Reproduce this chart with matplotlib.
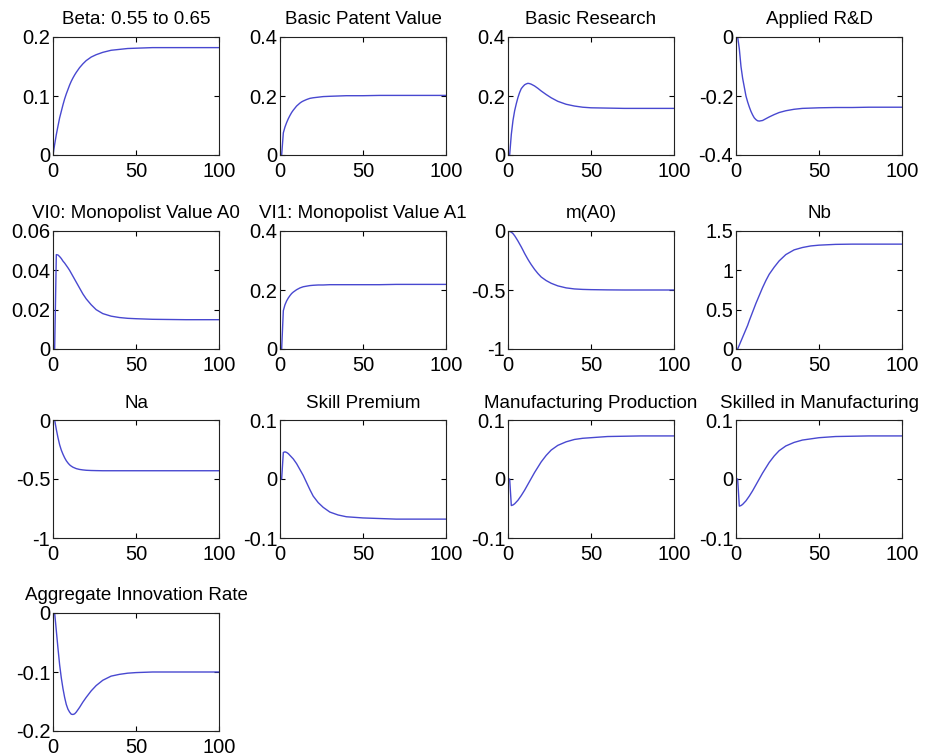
import matplotlib
matplotlib.use("Agg")
import matplotlib.pyplot as plt

plt.rcParams['font.family'] = ['Liberation Sans', 'DejaVu Sans']

x = [0, 1, 2, 3, 4, 5, 6, 7, 8, 9, 10, 11, 12, 13, 14, 16, 18, 20, 23, 26, 30, 35, 40, 45, 50, 60, 70, 80, 100]

titles = ["Beta: 0.55 to 0.65", "Basic Patent Value", "Basic Research", "Applied R&D",
          "VI0: Monopolist Value A0", "VI1: Monopolist Value A1", "m(A0)", "Nb",
          "Na", "Skill Premium", "Manufacturing Production", "Skilled in Manufacturing",
          "Aggregate Innovation Rate"]

beta = [0, 0.018, 0.0346, 0.049, 0.063, 0.074, 0.085, 0.095, 0.1035, 0.111, 0.1185, 0.125, 0.1305, 0.1355,
        0.140, 0.148, 0.1545, 0.160, 0.166, 0.170, 0.174, 0.1775, 0.179, 0.1805, 0.181, 0.182, 0.182, 0.182, 0.182]
patent = [0, 0, 0.075, 0.095, 0.11, 0.123, 0.134, 0.144, 0.152, 0.159, 0.166, 0.171, 0.176, 0.180,
          0.183, 0.188, 0.192, 0.194, 0.196, 0.198, 0.199, 0.200, 0.201, 0.201, 0.201, 0.202, 0.202, 0.202, 0.202]
basic_research = [0, 0, 0.07, 0.117, 0.15, 0.174, 0.195, 0.212, 0.225, 0.232, 0.238, 0.241, 0.243, 0.242,
                  0.240, 0.234, 0.226, 0.217, 0.205, 0.194, 0.182, 0.172, 0.166, 0.162, 0.160, 0.159, 0.158, 0.158, 0.158]
applied = [0, 0, -0.04, -0.10, -0.14, -0.17, -0.20, -0.22, -0.237, -0.252, -0.264, -0.274, -0.280, -0.284,
           -0.285, -0.283, -0.277, -0.271, -0.263, -0.256, -0.250, -0.245, -0.242, -0.241, -0.240, -0.239,
           -0.239, -0.238, -0.238]
vi0 = [0, 0, 0.048, 0.0478, 0.047, 0.046, 0.0447, 0.0437, 0.0425, 0.0413, 0.040, 0.0385, 0.037, 0.0355,
       0.034, 0.031, 0.028, 0.0255, 0.0225, 0.020, 0.018, 0.0167, 0.016, 0.0156, 0.0154, 0.0151, 0.015,
       0.0149, 0.0149]
vi1 = [0, 0, 0.13, 0.15, 0.163, 0.173, 0.181, 0.188, 0.193, 0.197, 0.201, 0.204, 0.207, 0.209, 0.211,
       0.213, 0.215, 0.216, 0.217, 0.217, 0.218, 0.218, 0.218, 0.218, 0.218, 0.218, 0.219, 0.219, 0.219]
m_a0 = [0, -0.003, -0.01, -0.022, -0.04, -0.062, -0.085, -0.11, -0.135, -0.162, -0.19, -0.215, -0.24,
        -0.263, -0.285, -0.325, -0.36, -0.39, -0.42, -0.443, -0.465, -0.482, -0.491, -0.495, -0.497,
        -0.499, -0.5, -0.5, -0.5]
nb = [0, 0, 0.05, 0.10, 0.15, 0.20, 0.25, 0.30, 0.36, 0.415, 0.47, 0.525, 0.58, 0.63, 0.68, 0.78, 0.87,
      0.95, 1.04, 1.12, 1.20, 1.26, 1.29, 1.31, 1.32, 1.33, 1.333, 1.333, 1.333]
na = [0, 0, -0.08, -0.15, -0.21, -0.255, -0.29, -0.32, -0.345, -0.364, -0.38, -0.391, -0.40, -0.406,
      -0.412, -0.419, -0.423, -0.426, -0.428, -0.429, -0.43, -0.43, -0.43, -0.43, -0.43, -0.43, -0.43,
      -0.43, -0.43]
skill_premium = [0, 0, 0.045, 0.046, 0.045, 0.043, 0.040, 0.037, 0.034, 0.030, 0.026, 0.021, 0.016, 0.011,
                 0.006, -0.006, -0.018, -0.029, -0.040, -0.048, -0.056, -0.061, -0.064, -0.065, -0.066,
                 -0.067, -0.068, -0.068, -0.068]
manuf = [0, 0, -0.045, -0.044, -0.042, -0.039, -0.036, -0.032, -0.028, -0.0235, -0.019, -0.014, -0.009,
         -0.004, 0.001, 0.011, 0.020, 0.029, 0.040, 0.049, 0.057, 0.063, 0.067, 0.069, 0.070, 0.072,
         0.0725, 0.073, 0.073]
skilled_manuf = [0, 0, -0.046, -0.045, -0.043, -0.040, -0.037, -0.033, -0.029, -0.0245, -0.020, -0.015,
                 -0.010, -0.005, 0.000, 0.010, 0.019, 0.028, 0.039, 0.048, 0.056, 0.062, 0.066, 0.068,
                 0.070, 0.072, 0.0725, 0.073, 0.073]
agg_innov = [0, 0, -0.03, -0.06, -0.088, -0.11, -0.128, -0.143, -0.155, -0.163, -0.168, -0.1715, -0.172,
             -0.171, -0.168, -0.160, -0.151, -0.143, -0.132, -0.123, -0.114, -0.107, -0.104, -0.102,
             -0.101, -0.100, -0.100, -0.100, -0.100]

series = [beta, patent, basic_research, applied, vi0, vi1, m_a0, nb, na, skill_premium,
          manuf, skilled_manuf, agg_innov]

yticks = [[0, 0.1, 0.2], [0, 0.2, 0.4], [0, 0.2, 0.4], [-0.4, -0.2, 0],
          [0, 0.02, 0.04, 0.06], [0, 0.2, 0.4], [-1, -0.5, 0], [0, 0.5, 1, 1.5],
          [-1, -0.5, 0], [-0.1, 0, 0.1], [-0.1, 0, 0.1], [-0.1, 0, 0.1],
          [-0.2, -0.1, 0]]
ytick_labels = [["0", "0.1", "0.2"], ["0", "0.2", "0.4"], ["0", "0.2", "0.4"], ["-0.4", "-0.2", "0"],
                ["0", "0.02", "0.04", "0.06"], ["0", "0.2", "0.4"], ["-1", "-0.5", "0"], ["0", "0.5", "1", "1.5"],
                ["-1", "-0.5", "0"], ["-0.1", "0", "0.1"], ["-0.1", "0", "0.1"], ["-0.1", "0", "0.1"],
                ["-0.2", "-0.1", "0"]]
xticks = [0, 50, 100]
xtick_labels = ["0", "50", "100"]

W, H = 926, 756
fig = plt.figure(figsize=(W / 100, H / 100), dpi=100)

col_left = [53, 280, 508, 736]
row_top = [37, 231, 420, 613]
aw, ah = 166, 118

for i, (t, y) in enumerate(zip(titles, series)):
    r, c = divmod(i, 4)
    l = col_left[c] / W
    b = 1 - (row_top[r] + ah) / H
    ax = fig.add_axes([l, b, aw / W, ah / H])
    ax.plot(x, y, color='#4848d0', lw=1.0)
    ax.set_xlim(0, 100)
    yt = yticks[i]
    ax.set_ylim(yt[0], yt[-1])
    ax.set_yticks(yt)
    ax.set_yticklabels(ytick_labels[i])
    ax.set_xticks(xticks)
    ax.set_xticklabels(xtick_labels)
    ax.tick_params(direction='in', length=3.5, width=0.8, top=True, right=True,
                   labelsize=14.5)
    ax.tick_params(axis='y', pad=2)
    ax.tick_params(axis='x', pad=5)
    for s in ax.spines.values():
        s.set_linewidth(0.8)
        s.set_color('#222222')
    ax.set_title(t, fontsize=13.5, pad=9)

fig.savefig("out.png", dpi=100)
